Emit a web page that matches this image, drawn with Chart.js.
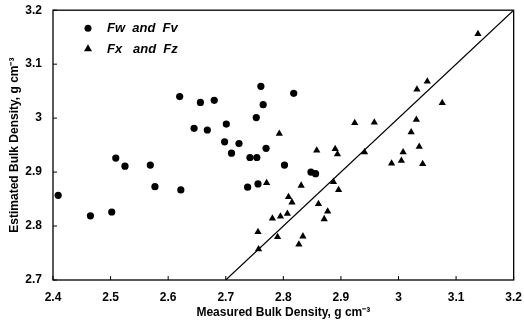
<!DOCTYPE html>
<html>
<head>
<meta charset="utf-8">
<script src="https://cdn.jsdelivr.net/npm/chart.js@4/dist/chart.umd.min.js"></script>
<style>
  html, body { margin: 0; padding: 0; background: #fff; }
  #wrap { width: 524px; height: 325px; }
</style>
</head>
<body>
<div id="wrap"><canvas id="chart" width="524" height="325"></canvas></div>
<script>
// Fw and Fv (circles): measured vs estimated bulk density
const fwMeasured = [2.409, 2.465, 2.502, 2.509, 2.525, 2.569, 2.577, 2.622, 2.620, 2.656,
                    2.645, 2.680, 2.761, 2.818, 2.765, 2.753, 2.701, 2.668, 2.698, 2.723,
                    2.710, 2.770, 2.742, 2.754, 2.802, 2.738, 2.756, 2.848, 2.856];
const fwEstimated = [2.857, 2.819, 2.826, 2.926, 2.911, 2.913, 2.873, 2.867, 3.040, 3.029,
                     2.981, 3.033, 3.059, 3.046, 3.025, 3.001, 2.989, 2.978, 2.956, 2.953,
                     2.935, 2.944, 2.927, 2.927, 2.913, 2.872, 2.878, 2.900, 2.897];

// Fx and Fz (triangles)
const fxMeasured = [2.793, 2.771, 2.831, 2.809, 2.815, 2.807, 2.795, 2.781, 2.756, 2.790,
                    2.757, 2.834, 2.827, 2.924, 2.958, 2.858, 2.890, 2.894, 2.941, 3.008,
                    3.005, 2.988, 2.887, 2.896, 2.861, 2.877, 2.871, 3.042, 3.138, 3.050,
                    3.032, 3.076, 3.031, 3.022, 3.036];
const fxEstimated = [2.971, 2.880, 2.875, 2.854, 2.844, 2.823, 2.818, 2.814, 2.789, 2.780,
                     2.757, 2.781, 2.766, 2.991, 2.992, 2.940, 2.943, 2.933, 2.937, 2.937,
                     2.921, 2.916, 2.882, 2.867, 2.841, 2.827, 2.813, 2.915, 3.156, 3.068,
                     3.053, 3.028, 2.997, 2.974, 2.947];

// 1:1 line
const lineX = [2.7, 3.2];
const lineY = [2.7, 3.2];

const legendLabels = ['Fw  and  Fv', 'Fx   and  Fz'];

function toPoints(xs, ys) {
    return xs.map((x, i) => ({ x: x, y: ys[i] }));
}

const tickFont = { family: 'Liberation Sans, Arial, sans-serif', size: 12, weight: 'bold' };
const titleFont = { family: 'Liberation Sans, Arial, sans-serif', size: 12, weight: 'bold' };

// frame + inward ticks + legend inside the plot
const framePlugin = {
    id: 'frame',
    afterDraw(chart) {
        const ctx = chart.ctx;
        const a = chart.chartArea;
        ctx.save();
        ctx.strokeStyle = '#000';
        ctx.lineWidth = 1.3;
        ctx.strokeRect(a.left, a.top, a.right - a.left, a.bottom - a.top);

        // small inward tick marks
        ctx.lineWidth = 1;
        chart.scales.x.ticks.forEach(t => {
            const px = chart.scales.x.getPixelForValue(t.value);
            ctx.beginPath();
            ctx.moveTo(px, a.bottom);
            ctx.lineTo(px, a.bottom - 4);
            ctx.stroke();
        });
        chart.scales.y.ticks.forEach(t => {
            const py = chart.scales.y.getPixelForValue(t.value);
            ctx.beginPath();
            ctx.moveTo(a.left, py);
            ctx.lineTo(a.left + 4, py);
            ctx.stroke();
        });

        // legend
        ctx.fillStyle = '#000';
        ctx.beginPath();
        ctx.arc(a.left + 35, a.top + 18, 3.5, 0, Math.PI * 2);
        ctx.fill();
        ctx.beginPath();
        ctx.moveTo(a.left + 35, a.top + 34);
        ctx.lineTo(a.left + 39, a.top + 41);
        ctx.lineTo(a.left + 31, a.top + 41);
        ctx.closePath();
        ctx.fill();
        ctx.font = 'italic bold 13px "Liberation Sans", Arial, sans-serif';
        ctx.textBaseline = 'middle';
        ctx.fillText(legendLabels[0], a.left + 54, a.top + 18);
        ctx.fillText(legendLabels[1], a.left + 54, a.top + 39);
        ctx.restore();
    }
};

const ctx = document.getElementById('chart').getContext('2d');
new Chart(ctx, {
    type: 'scatter',
    data: {
        datasets: [
            {
                label: legendLabels[0],
                data: toPoints(fwMeasured, fwEstimated),
                pointStyle: 'circle',
                pointRadius: 3.6,
                backgroundColor: '#000',
                borderColor: '#000',
                borderWidth: 0
            },
            {
                label: legendLabels[1],
                data: toPoints(fxMeasured, fxEstimated),
                pointStyle: 'triangle',
                pointRadius: 4.2,
                backgroundColor: '#000',
                borderColor: '#000',
                borderWidth: 0
            },
            {
                label: '1:1',
                type: 'line',
                data: toPoints(lineX, lineY),
                borderColor: '#000',
                borderWidth: 1.2,
                pointRadius: 0,
                fill: false
            }
        ]
    },
    options: {
        responsive: false,
        animation: false,
        layout: { padding: { left: 0, top: 8, right: 9, bottom: 0 } },
        plugins: {
            legend: { display: false },
            tooltip: { enabled: false }
        },
        scales: {
            x: {
                type: 'linear',
                min: 2.4,
                max: 3.2,
                ticks: {
                    stepSize: 0.1,
                    color: '#000',
                    font: tickFont,
                    padding: 2,
                    maxRotation: 0,
                    callback: v => String(Number(v.toFixed(1)))
                },
                grid: { display: false },
                border: { display: false },
                title: {
                    display: true,
                    text: 'Measured Bulk Density, g cm\u207B\u00B3',
                    color: '#000',
                    font: titleFont,
                    padding: { top: 5, bottom: 5 }
                },
                afterFit: scale => { scale.height = 45; }
            },
            y: {
                type: 'linear',
                min: 2.7,
                max: 3.2,
                ticks: {
                    stepSize: 0.1,
                    color: '#000',
                    font: tickFont,
                    padding: 3,
                    callback: v => String(Number(v.toFixed(1)))
                },
                grid: { display: false },
                border: { display: false },
                title: {
                    display: true,
                    text: 'Estimated Bulk Density, g cm\u207B\u00B3',
                    color: '#000',
                    font: titleFont,
                    padding: { top: 7, bottom: 0 }
                },
                afterFit: scale => { scale.width = 53; }
            }
        }
    },
    plugins: [framePlugin]
});
</script>
</body>
</html>
